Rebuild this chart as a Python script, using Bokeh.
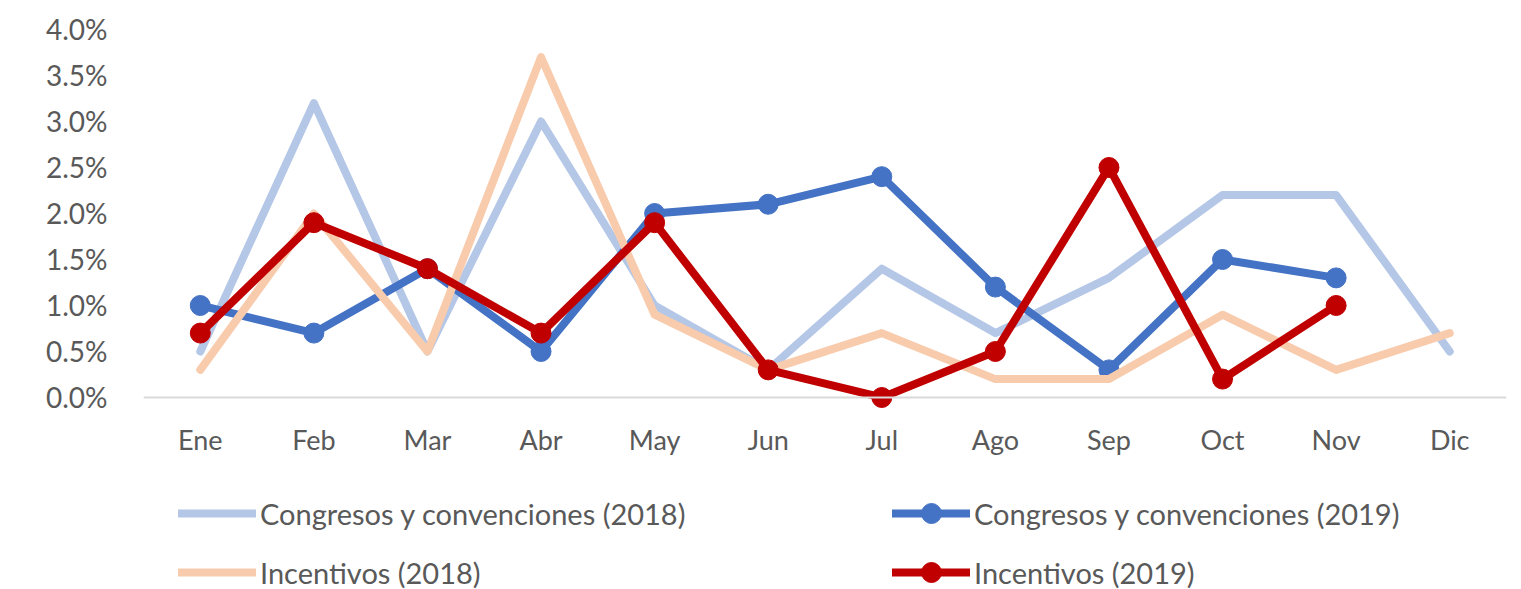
from bokeh.plotting import figure
from bokeh.models import Range1d, Legend, LegendItem, FixedTicker, NumeralTickFormatter, Span
from bokeh.embed import file_html
from bokeh.resources import INLINE

months = ["Ene", "Feb", "Mar", "Abr", "May", "Jun", "Jul", "Ago", "Sep", "Oct", "Nov", "Dic"]
congresos_2018 = [0.005, 0.032, 0.005, 0.030, 0.010, 0.003, 0.014, 0.007, 0.013, 0.022, 0.022, 0.005]
congresos_2019 = [0.010, 0.007, 0.014, 0.005, 0.020, 0.021, 0.024, 0.012, 0.003, 0.015, 0.013]
incentivos_2018 = [0.003, 0.020, 0.005, 0.037, 0.009, 0.003, 0.007, 0.002, 0.002, 0.009, 0.003, 0.007]
incentivos_2019 = [0.007, 0.019, 0.014, 0.007, 0.019, 0.003, 0.000, 0.005, 0.025, 0.002, 0.010]
y_ticks = [0.0, 0.005, 0.01, 0.015, 0.02, 0.025, 0.03, 0.035, 0.04]

FONT = "Lato"
TXT = "#595959"

# frame spans the whole height so the legend (inside the frame) is not clipped;
# the category axis is pinned at y = 0 with its labels below the baseline.
p = figure(x_range=months, y_range=Range1d(-0.02087, 0.04054),
           width=1521, height=589, output_backend="svg", toolbar_location=None,
           x_axis_location="above",
           min_border_left=143, min_border_right=15, min_border_top=24, min_border_bottom=0)
p.outline_line_color = None
p.grid.grid_line_color = None

p.add_layout(Span(location=0, dimension="width", line_color="#D9D9D9", line_width=2))

kw = dict(line_width=8, line_join="round", line_cap="round")
l1 = p.line(months, congresos_2018, line_color="#B4C7E7", **kw)
l2 = p.line(months[:11], congresos_2019, line_color="#4472C4", **kw)
c2 = p.scatter(months[:11], congresos_2019, size=20, fill_color="#4472C4", line_color="#4472C4")
l3 = p.line(months, incentivos_2018, line_color="#F8CBAD", **kw)
l4 = p.line(months[:11], incentivos_2019, line_color="#C00000", **kw)
c4 = p.scatter(months[:11], incentivos_2019, size=20, fill_color="#C00000", line_color="#C00000")

p.yaxis.ticker = FixedTicker(ticks=y_ticks)
p.yaxis.formatter = NumeralTickFormatter(format="0.0%")
for ax in (p.xaxis[0], p.yaxis[0]):
    ax.axis_line_color = None
    ax.major_tick_line_color = None
    ax.minor_tick_line_color = None
    ax.major_label_text_font = FONT
    ax.major_label_text_color = TXT
p.yaxis.major_label_text_font_size = "28px"
p.xaxis.major_label_text_font_size = "27px"
p.yaxis.major_label_standoff = 30
p.xaxis.fixed_location = 0
p.xaxis.major_label_standoff = -65

common = dict(orientation="horizontal", glyph_width=78, glyph_height=50, label_height=50,
              padding=0, margin=0, label_standoff=4, label_width=470, spacing=162,
              label_text_font=FONT, label_text_font_size="29px", label_text_color=TXT,
              border_line_color=None, background_fill_alpha=0)
legend_a = Legend(items=[
    LegendItem(label="Congresos y convenciones (2018)", renderers=[l1]),
    LegendItem(label="Congresos y convenciones (2019)", renderers=[l2, c2]),
], location=(35, 51), **common)
legend_b = Legend(items=[
    LegendItem(label="Incentivos (2018)", renderers=[l3]),
    LegendItem(label="Incentivos (2019)", renderers=[l4, c4]),
], location=(35, -8), **common)
p.add_layout(legend_a, "center")
p.add_layout(legend_b, "center")

open("out.html", "w").write(file_html(p, INLINE))
